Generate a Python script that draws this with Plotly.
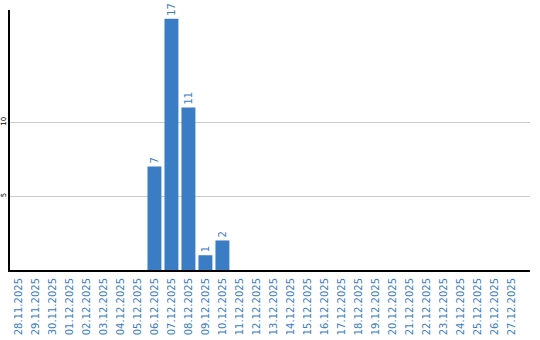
import plotly.graph_objects as go

dates = ["28.11.2025", "29.11.2025", "30.11.2025", "01.12.2025", "02.12.2025", "03.12.2025",
         "04.12.2025", "05.12.2025", "06.12.2025", "07.12.2025", "08.12.2025", "09.12.2025",
         "10.12.2025", "11.12.2025", "12.12.2025", "13.12.2025", "14.12.2025", "15.12.2025",
         "16.12.2025", "17.12.2025", "18.12.2025", "19.12.2025", "20.12.2025", "21.12.2025",
         "22.12.2025", "23.12.2025", "24.12.2025", "25.12.2025", "26.12.2025", "27.12.2025"]
values = [0, 0, 0, 0, 0, 0, 0, 0, 7, 17, 11, 1, 2, 0, 0, 0, 0, 0,
          0, 0, 0, 0, 0, 0, 0, 0, 0, 0, 0, 0]
texts = [str(v) if v else "" for v in values]

blue = "#3b7dc4"
fig = go.Figure(go.Bar(
    x=dates, y=values, marker=dict(color=blue, line=dict(width=0)),
    text=texts, textposition="outside", textangle=-90,
    textfont=dict(family="DejaVu Sans", size=10, color=blue),
    cliponaxis=False,
))
fig.update_layout(
    width=540, height=340, margin=dict(l=10, r=10, t=10, b=70),
    paper_bgcolor="white", plot_bgcolor="white", bargap=0.18,
    showlegend=False,
    xaxis=dict(type="category", range=[-0.5, 30.1], tickangle=-90,
               tickfont=dict(family="DejaVu Sans", size=10, color=blue),
               showline=True, linecolor="black", linewidth=2, showgrid=False,
               ticks="", automargin=False, ticklabelstandoff=2),
    yaxis=dict(range=[0, 17.6], tickvals=[5, 10], tickangle=-90,
               tickfont=dict(family="DejaVu Sans", size=7, color="black"),
               showline=True, linecolor="black", linewidth=2,
               gridcolor="#cccccc", gridwidth=1, zeroline=False, ticks="",
               automargin=False, ticklabelstandoff=-1),
)
fig.write_html("out.html")
